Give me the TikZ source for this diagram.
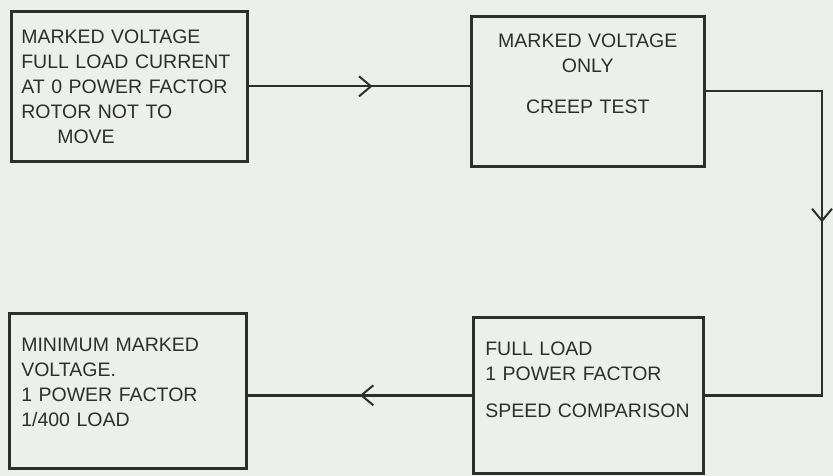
\documentclass[tikz,border=0pt]{standalone}
\usepackage{fontspec}
\setmainfont{Liberation Sans}
\usepackage{xcolor}
\usetikzlibrary{arrows.meta,positioning,decorations.markings}
\definecolor{paper}{HTML}{EDF0EA}
\definecolor{ink}{HTML}{2E2E2C}

\begin{document}
\begin{tikzpicture}[x=1pt, y=-1pt,
  font=\fontsize{19.5}{25}\selectfont,
  box/.style={draw=ink, line width=2.6pt, anchor=north west, text=ink,
    align=left, inner xsep=12pt, inner ysep=0pt},
  flow/.style={draw=ink, line width=2.4pt},
  midarr/.style={postaction={decorate}, decoration={markings,
    mark=at position #1 with {\arrow[line width=2pt]{Straight Barb[length=12pt,width=20pt]}}}},
]
\fill[paper] (0,0) rectangle (833,476);
\useasboundingbox (0,0) rectangle (833,476);

\node[box, inner xsep=10pt, text width=216pt, minimum height=150pt] (volt) at (10,10)
  {MARKED VOLTAGE\\\mbox{FULL LOAD CURRENT}\\\mbox{AT 0 POWER FACTOR}\\ROTOR NOT TO\\\hspace{36pt}MOVE};
\node[box, align=center, text width=209pt, minimum height=150pt] (creep) at (470,15)
  {MARKED VOLTAGE\\ONLY\\[16pt]CREEP TEST\\[10pt]\mbox{}};
\node[box, text width=206pt, minimum height=156pt] (speed) at (472,316)
  {FULL LOAD\\1 POWER FACTOR\\[12pt]\mbox{SPEED COMPARISON}\\[6pt]\mbox{}};
\node[box, text width=213pt, minimum height=155pt] (minv) at (8,312)
  {MINIMUM MARKED\\VOLTAGE.\\1 POWER FACTOR\\1/400 LOAD\\[-8pt]\mbox{}};

\coordinate (turn) at (822,0);
\draw[flow, midarr=0.56] (volt.east) -- (volt.east -| creep.west);
\draw[flow, midarr=0.46] (creep.east) -- (creep.east -| turn) |- (speed.east);
\draw[flow, midarr=0.5] (speed.west) -- (speed.west -| minv.east);
\end{tikzpicture}
\end{document}
